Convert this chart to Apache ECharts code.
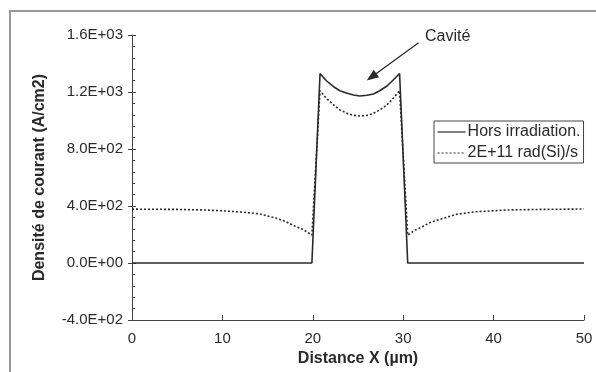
<!DOCTYPE html>
<html>
<head>
<meta charset="utf-8">
<script src="https://cdn.jsdelivr.net/npm/echarts@6/dist/echarts.min.js"></script>
<style>
  html, body { margin: 0; padding: 0; background: #fff; }
</style>
</head>
<body>
<div id="main" style="width: 596px;height:372px;"></div>
<script>
// abscisses (µm) et densités (A/cm2)
var xHors = [0, 19.9, 20.8, 21.5, 22.3, 23.0, 23.8, 24.5, 25.2, 26.0, 26.7, 27.4, 28.2, 28.9, 29.6, 30.5, 50];
var yHors = [0, 0, 1330, 1279, 1237, 1209, 1191, 1179, 1172, 1177, 1186, 1209, 1242, 1284, 1330, 0, 0];

var xIrr = [0, 5, 8, 10, 12, 14, 16, 17, 18, 19, 19.9, 20.8, 21.5, 22.3, 23.0, 23.8, 24.5, 25.2, 26.0, 26.7, 27.4, 28.2, 28.9, 29.6,
            30.5, 31.3, 32.2, 33.0, 34.1, 35.9, 38.1, 41.4, 45, 50];
var yIrr = [378, 376, 372, 366, 358, 346, 314, 290, 260, 232, 196, 1209, 1156, 1109, 1074, 1050, 1036, 1032, 1036, 1050, 1074, 1109, 1156, 1209,
            196, 230, 258, 285, 307, 342, 360, 372, 376, 379];

var seriesNames = ['Hors irradiation.', '2E+11 rad(Si)/s'];
var yTicks = [-400, 0, 400, 800, 1200, 1600];
var yTickLabels = ['-4.0E+02', '0.0E+00', '4.0E+02', '8.0E+02', '1.2E+03', '1.6E+03'];

function pairs(xs, ys) {
    return xs.map(function (x, i) { return [x, ys[i]]; });
}

var font = "'Liberation Sans', Arial, sans-serif";
var ink = '#2a2a2a';

var myChart = echarts.init(document.getElementById('main'));

var option = {
    animation: false,
    textStyle: { fontFamily: font },
    grid: { left: 132, right: 12, top: 35, bottom: 51 },
    graphic: [
        {   // cadre de la figure
            type: 'rect',
            shape: { x: 10, y: 11, width: 620, height: 400 },
            style: { fill: 'none', stroke: '#999', lineWidth: 2 }
        },
        {
            type: 'text',
            left: 425, top: 29,
            style: { text: 'Cavité', fontSize: 16, fontFamily: font, fill: ink }
        }
    ],
    legend: {
        orient: 'vertical',
        left: 434, top: 121,
        data: seriesNames,
        itemWidth: 28, itemHeight: 14, itemGap: 5,
        padding: [3, 3, 2, 3],
        borderColor: '#444', borderWidth: 1,
        itemStyle: { opacity: 0 },
        lineStyle: { width: 1.2 },
        textStyle: { fontSize: 16, color: ink, padding: [0, 0, 0, -3] }
    },
    xAxis: {
        type: 'value',
        min: 0, max: 50, interval: 10,
        name: 'Distance X (µm)',
        nameLocation: 'middle',
        nameGap: 31,
        nameTextStyle: { fontSize: 16, fontWeight: 'bold', color: ink },
        axisLine: { onZero: false, lineStyle: { color: '#444', width: 1 } },
        axisTick: { inside: true, length: 5, lineStyle: { color: '#444' } },
        axisLabel: { fontSize: 15, color: ink, margin: 11 },
        splitLine: { show: false }
    },
    yAxis: [
        {
            type: 'value',
            min: -400, max: 1600, interval: 400,
            name: 'Densité de courant (A/cm2)',
            nameLocation: 'middle',
            nameGap: 84,
            nameTextStyle: { fontSize: 16, fontWeight: 'bold', color: ink },
            axisLine: { show: true, lineStyle: { color: '#444', width: 1 } },
            axisTick: { show: true, inside: true, length: 4, lineStyle: { color: '#444' } },
            minorTick: { show: true, splitNumber: 5, length: 3, lineStyle: { color: '#444' } },
            axisLabel: {
                fontSize: 15, color: ink, margin: 9,
                formatter: function (v) {
                    var i = yTicks.indexOf(v);
                    return i >= 0 ? yTickLabels[i] : '';
                }
            },
            splitLine: { show: false }
        },
        {   // graduations majeures vers l'extérieur
            type: 'value',
            min: -400, max: 1600, interval: 400,
            position: 'left',
            axisLine: { show: false },
            axisTick: { show: true, inside: false, length: 4, lineStyle: { color: '#444' } },
            axisLabel: { show: false },
            splitLine: { show: false }
        }
    ],
    series: [
        {
            name: seriesNames[0],
            type: 'line',
            showSymbol: false,
            symbol: 'none',
            data: pairs(xHors, yHors),
            lineStyle: { color: ink, width: 1.6, type: 'solid' },
            itemStyle: { color: ink },
            markLine: {
                silent: true,
                symbol: ['none', 'triangle'],
                symbolSize: [9, 12],
                label: { show: false },
                lineStyle: { color: ink, width: 1.3, type: 'solid' },
                data: [[{ coord: [31.7, 1545] }, { coord: [26.5, 1305] }]]
            }
        },
        {
            name: seriesNames[1],
            type: 'line',
            showSymbol: false,
            symbol: 'none',
            data: pairs(xIrr, yIrr),
            lineStyle: { color: ink, width: 1.6, type: [2, 2] },
            itemStyle: { color: ink }
        }
    ]
};
myChart.setOption(option);
</script>
</body>
</html>
